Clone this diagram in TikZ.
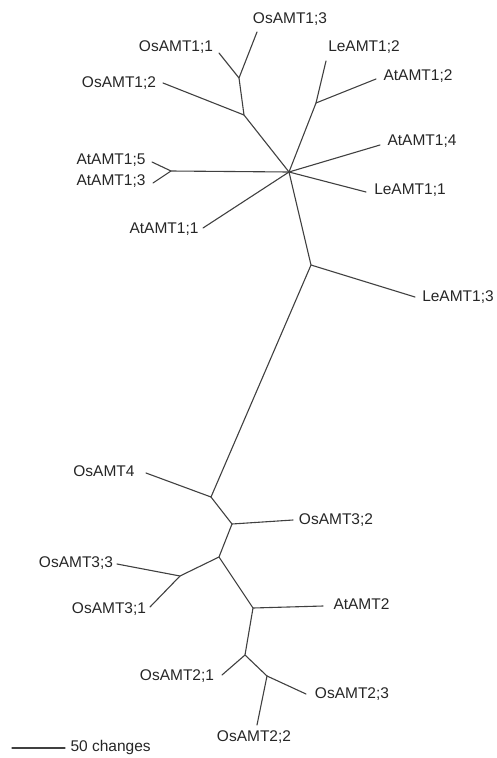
\documentclass[tikz,border=0pt]{standalone}
\usepackage{fontspec}
\setmainfont{Liberation Sans}
\usepackage{tikz}
\usetikzlibrary{positioning}
\usepackage{xcolor}

\begin{document}
\begin{tikzpicture}[x=1pt, y=-1pt, line width=1pt, black!80,
    taxon/.style={font=\fontsize{15.5}{18}\selectfont, text=black!85, inner sep=0pt, text height=0.72em, text depth=0.12em},
    branch/.style={draw=black!75, line width=1.1pt, line cap=round, line join=round}]
        \useasboundingbox (0,0) rectangle (497,758);
        % inner junctions
        \coordinate (hub) at (289,172);
        \coordinate (osonej) at (244,115);
        \coordinate (osonek) at (239,78);
        \coordinate (leonej) at (316,103);
        \coordinate (atonej) at (171,171);
        \coordinate (lethreej) at (311,265);
        \coordinate (osfourj) at (211,497);
        \coordinate (osthreej) at (232,524);
        \coordinate (midj) at (219,557);
        \coordinate (osthreek) at (180,576);
        \coordinate (attwoj) at (253,608);
        \coordinate (ostwoj) at (245,655);
        \coordinate (ostwok) at (267,676);
        % branch tips
        \coordinate (os13t) at (257,32);
        \coordinate (os11t) at (219,53);
        \coordinate (os12t) at (163,83);
        \coordinate (le12t) at (326,61);
        \coordinate (at12t) at (376,79);
        \coordinate (at14t) at (380,145);
        \coordinate (le11t) at (366,192);
        \coordinate (at15t) at (152,162);
        \coordinate (at13t) at (153,183);
        \coordinate (at11t) at (203,228);
        \coordinate (le13t) at (415,297);
        \coordinate (os4t) at (146,473);
        \coordinate (os32t) at (293,520);
        \coordinate (os33t) at (117,564);
        \coordinate (os31t) at (150,607);
        \coordinate (at2t) at (323,606);
        \coordinate (os21t) at (222,675);
        \coordinate (os23t) at (306,694);
        \coordinate (os22t) at (257,725);
        \coordinate (barl) at (12,748);
        \coordinate (barr) at (65,748);
        % taxa
        \node[taxon] (os13) at (290,20) {OsAMT1;3};
        \node[taxon] (os11) at (176,48) {OsAMT1;1};
        \node[taxon] (os12) at (119,84) {OsAMT1;2};
        \node[taxon] (le12) at (364,48) {LeAMT1;2};
        \node[taxon] (at12) at (418,77) {AtAMT1;2};
        \node[taxon] (at14) at (422,142) {AtAMT1;4};
        \node[taxon] (le11) at (410,191) {LeAMT1;1};
        \node[taxon, anchor=east] (at15) at (146,161) {AtAMT1;5};
        \node[taxon, anchor=east] (at13) at (146,182) {AtAMT1;3};
        \node[taxon] (at11) at (164,230) {AtAMT1;1};
        \node[taxon] (le13) at (458,298) {LeAMT1;3};
        \node[taxon] (os4) at (104,473) {OsAMT4};
        \node[taxon] (os32) at (336,521) {OsAMT3;2};
        \node[taxon] (os33) at (76,564) {OsAMT3;3};
        \node[taxon] (os31) at (109,610) {OsAMT3;1};
        \node[taxon, anchor=west] (at2) at (333,606) {AtAMT2};
        \node[taxon] (os21) at (177,677) {OsAMT2;1};
        \node[taxon] (os23) at (352,695) {OsAMT2;3};
        \node[taxon] (os22) at (254,738) {OsAMT2;2};
        \node[taxon, anchor=west] (scale) at (70,748) {50 changes};
        % AMT1 clade
        \draw[branch] (hub) -- (osonej) -- (osonek) -- (os13t);
        \draw[branch] (osonek) -- (os11t);
        \draw[branch] (osonej) -- (os12t);
        \draw[branch] (hub) -- (leonej) -- (le12t);
        \draw[branch] (leonej) -- (at12t);
        \draw[branch] (hub) -- (at14t);
        \draw[branch] (hub) -- (le11t);
        \draw[branch] (hub) -- (atonej) -- (at15t);
        \draw[branch] (atonej) -- (at13t);
        \draw[branch] (hub) -- (at11t);
        \draw[branch] (hub) -- (lethreej) -- (le13t);
        % AMT2 clade
        \draw[branch] (lethreej) -- (osfourj) -- (os4t);
        \draw[branch] (osfourj) -- (osthreej) -- (os32t);
        \draw[branch] (osthreej) -- (midj) -- (osthreek) -- (os33t);
        \draw[branch] (osthreek) -- (os31t);
        \draw[branch] (midj) -- (attwoj) -- (at2t);
        \draw[branch] (attwoj) -- (ostwoj) -- (os21t);
        \draw[branch] (ostwoj) -- (ostwok) -- (os23t);
        \draw[branch] (ostwok) -- (os22t);
        % scale bar
        \draw[branch] (barl) -- (barr);
    \end{tikzpicture}
\end{document}
